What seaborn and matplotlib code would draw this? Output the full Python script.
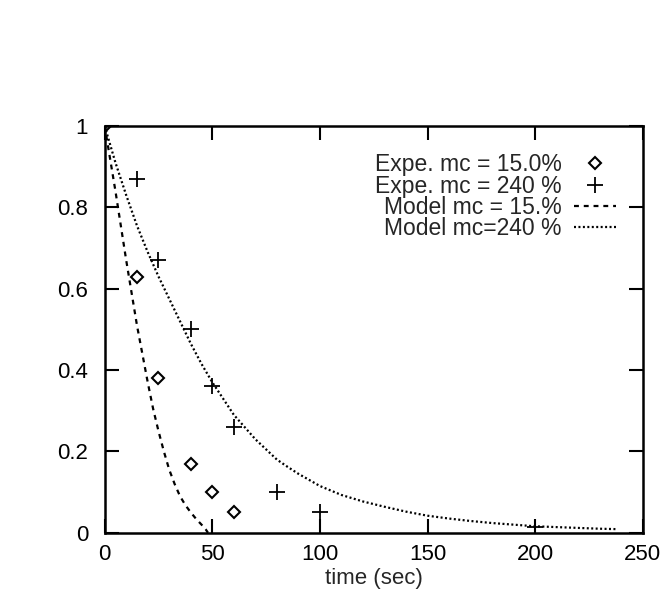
import matplotlib
matplotlib.use("Agg")
import matplotlib.pyplot as plt
import seaborn as sns
import pandas as pd

# Experimental data
t_exp15 = [0, 15, 25, 40, 50, 60]
y_exp15 = [1.0, 0.63, 0.38, 0.17, 0.10, 0.05]
t_exp240 = [15, 25, 40, 50, 60, 80, 100, 200]
y_exp240 = [0.87, 0.67, 0.50, 0.36, 0.26, 0.10, 0.05, 0.015]

# Model curves
t_mod15 = [0, 2.5, 5, 7.5, 10, 12.5, 15, 17.5, 20, 22.5, 25, 27.5, 30, 32.5,
           35, 37.5, 40, 42.5, 45, 47, 48]
y_mod15 = [1.0, 0.92, 0.84, 0.755, 0.67, 0.59, 0.51, 0.44, 0.37, 0.305, 0.25,
           0.2, 0.155, 0.12, 0.09, 0.068, 0.05, 0.034, 0.02, 0.008, 0.0]
t_mod240 = [0, 5, 10, 15, 20, 25, 30, 35, 40, 45, 50, 55, 60, 65, 70, 75, 80,
            85, 90, 95, 100, 110, 120, 130, 140, 150, 160, 170, 180, 190, 200,
            210, 220, 230, 238]
y_mod240 = [1.0, 0.91, 0.83, 0.755, 0.69, 0.63, 0.575, 0.52, 0.465, 0.415,
            0.37, 0.33, 0.29, 0.26, 0.23, 0.205, 0.18, 0.162, 0.145, 0.13,
            0.115, 0.093, 0.077, 0.064, 0.052, 0.042, 0.035, 0.029, 0.024,
            0.02, 0.016, 0.014, 0.012, 0.010, 0.009]

labels = ["Expe. mc = 15.0%", "Expe. mc = 240 %", "Model mc = 15.%", "Model mc=240 %"]
xticks = [0, 50, 100, 150, 200, 250]
yticks = [0, 0.2, 0.4, 0.6, 0.8, 1]

sns.set_theme(style="ticks")
plt.rcParams['font.family'] = ['Liberation Sans', 'DejaVu Sans']

fig = plt.figure(figsize=(6.71, 6.0), dpi=100)
ax = fig.add_axes([0.156, 0.112, 0.802, 0.678])

df15 = pd.DataFrame({"t": t_exp15, "y": y_exp15})
df240 = pd.DataFrame({"t": t_exp240, "y": y_exp240})
dm15 = pd.DataFrame({"t": t_mod15, "y": y_mod15})
dm240 = pd.DataFrame({"t": t_mod240, "y": y_mod240})

ax.plot(df15["t"], df15["y"], linestyle="none", marker="D", markersize=6,
        markerfacecolor="none", markeredgecolor="black", markeredgewidth=1.5,
        label=labels[0])
ax.plot(df240["t"], df240["y"], linestyle="none", marker="+", markersize=12,
        color="black", markeredgewidth=1.3, label=labels[1])
sns.lineplot(data=dm15, x="t", y="y", ax=ax, color="black", linewidth=1.6,
             label=labels[2], sort=False)
sns.lineplot(data=dm240, x="t", y="y", ax=ax, color="black", linewidth=1.6,
             label=labels[3], sort=False)
ax.lines[2].set_dashes([2.2, 2.2])
ax.lines[3].set_dashes([0.9, 1.1])

ax.set_xlim(0, 250)
ax.set_ylim(0, 1)
ax.set_xticks(xticks)
ax.set_xticklabels([str(v) for v in xticks])
ax.set_yticks(yticks)
ax.set_yticklabels(["0", "0.2", "0.4", "0.6", "0.8", "1"])
ax.tick_params(direction="in", length=10, width=1.5, top=True, right=True,
               labelsize=16, colors="black")
ax.tick_params(axis="x", pad=8)
ax.tick_params(axis="y", pad=12)
for s in ax.spines.values():
    s.set_visible(True)
    s.set_linewidth(1.8)
    s.set_color("black")
ax.set_xlabel("time (sec)", fontsize=16, labelpad=2)
ax.set_ylabel("")

leg = ax.legend(loc="upper right", markerfirst=False, frameon=False,
                fontsize=16.5, handlelength=1.85, labelspacing=-0.08,
                borderaxespad=0.0, handletextpad=0.55,
                bbox_to_anchor=(0.968, 0.955))
for t in leg.get_texts():
    t.set_ha("right")

fig.savefig("out.png", dpi=100)
